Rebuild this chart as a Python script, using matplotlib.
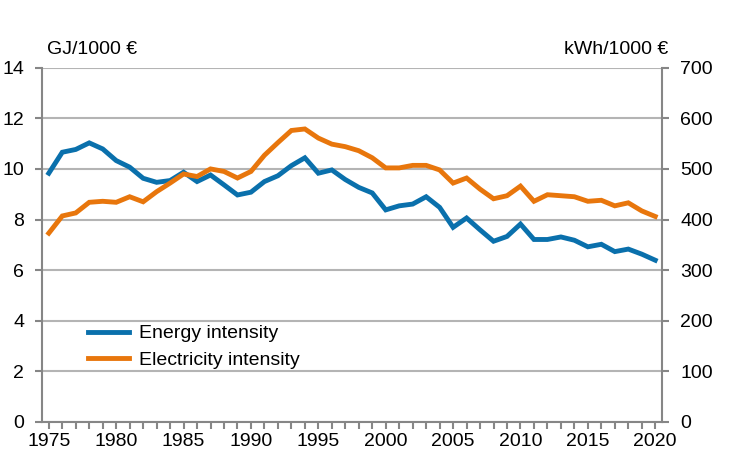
import matplotlib.pyplot as plt
import numpy as np

plt.rcParams['font.family'] = ['Liberation Sans', 'DejaVu Sans']

years = list(range(1975, 2021))

# GJ / 1000 EUR (left axis)
energy = [9.83, 10.66, 10.77, 11.03, 10.79, 10.33, 10.07, 9.63, 9.47, 9.54,
          9.87, 9.50, 9.76, 9.37, 8.97, 9.08, 9.50, 9.73, 10.13, 10.44,
          9.83, 9.96, 9.58, 9.27, 9.05, 8.38, 8.54, 8.61, 8.90, 8.48,
          7.69, 8.06, 7.59, 7.14, 7.33, 7.82, 7.21, 7.21, 7.31, 7.18,
          6.92, 7.02, 6.73, 6.83, 6.63, 6.39]

# kWh / 1000 EUR (right axis)
electricity = [373, 407, 413, 434, 436, 434, 445, 435, 455, 472,
               490, 485, 500, 495, 482, 495, 527, 552, 576, 579,
               561, 549, 544, 536, 522, 502, 502, 507, 507, 498,
               472, 482, 460, 441, 447, 466, 436, 449, 447, 445,
               436, 438, 427, 433, 417, 406]

blue = '#0a70ac'
orange = '#e8760c'
grid_c = '#b4b4b4'
spine_c = '#868686'
fs = 14

fig = plt.figure(figsize=(7.38, 4.61), dpi=100)
ax = fig.add_axes([0.057, 0.085, 0.84, 0.768])
ax2 = ax.twinx()

ax.set_xlim(1974.5, 2020.5)
ax.set_ylim(0, 14)
ax2.set_ylim(0, 700)

ax.set_yticks(np.arange(0, 15, 2))
ax2.set_yticks(np.arange(0, 701, 100))
ax.set_xticks(range(1975, 2021, 5))
ax.set_xticks(years, minor=True)

ax.grid(axis='y', color=grid_c, linewidth=1.5)
ax.set_axisbelow(True)

l1, = ax.plot(years, energy, color=blue, linewidth=3.5, solid_joinstyle='miter',
              label='Energy intensity')
l2, = ax2.plot(years, electricity, color=orange, linewidth=3.5, solid_joinstyle='miter',
               label='Electricity intensity')

for a in (ax, ax2):
    for s in a.spines.values():
        s.set_visible(False)
    a.tick_params(labelsize=fs, colors='black', length=5, width=1.5)
    a.tick_params(axis='both', color=spine_c)
ax.spines['left'].set_visible(True)
ax.spines['bottom'].set_visible(True)
ax2.spines['right'].set_visible(True)
for s in (ax.spines['left'], ax.spines['bottom'], ax2.spines['right']):
    s.set_color(spine_c)
    s.set_linewidth(1.5)
ax.tick_params(axis='x', which='both', length=5, width=1.5, color=spine_c, pad=3)
ax.tick_params(axis='y', pad=8)
ax2.tick_params(axis='y', pad=8)

ax.text(0.008, 1.052, 'GJ/1000 €', transform=ax.transAxes, fontsize=fs, ha='left', va='center')
ax2.text(1.01, 1.052, 'kWh/1000 €', transform=ax2.transAxes, fontsize=fs, ha='right', va='center')

ax2.legend(handles=[l1, l2], loc='lower left', bbox_to_anchor=(0.062, 0.128),
           frameon=False, fontsize=fs, handlelength=2.1, labelspacing=0.45,
           handletextpad=0.5, borderaxespad=0)

fig.savefig('out.png', dpi=100)
